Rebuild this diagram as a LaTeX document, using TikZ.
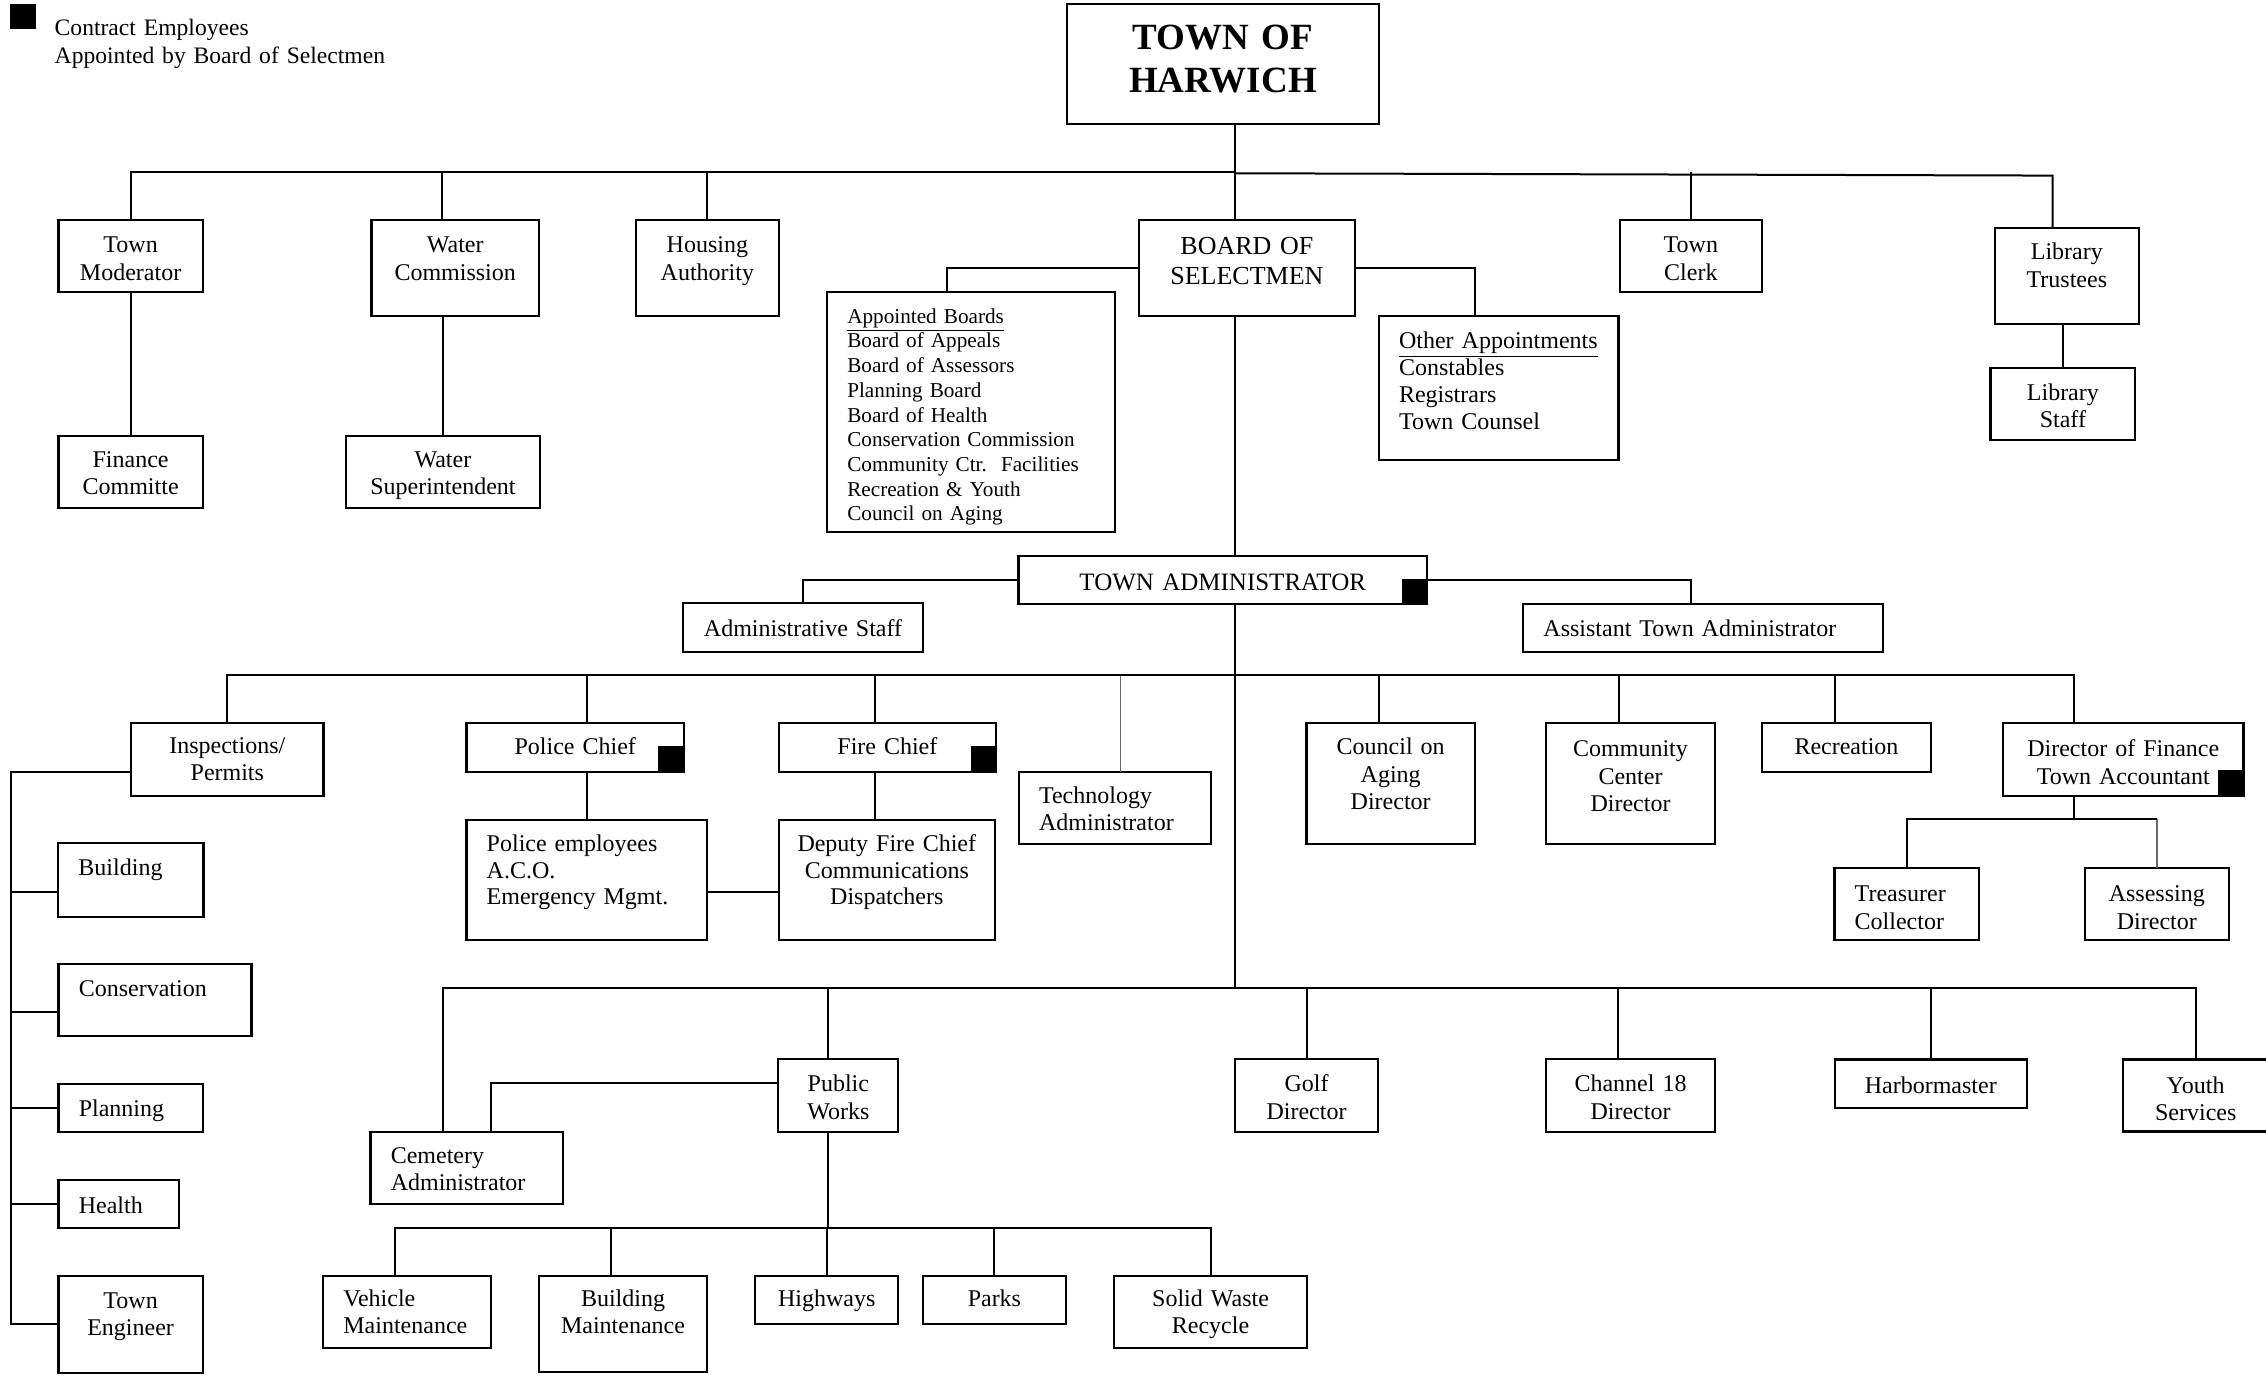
\documentclass[tikz,border=0pt]{standalone}
\usepackage{fontspec}
\setmainfont{Liberation Serif}
\usetikzlibrary{calc}
\newcommand{\upx}{0.7226}
% box from (x1,y1) to (x2,y2), first baseline at y
\newcommand{\orgbox}[8][]{%
  \pgfmathsetmacro\boxw{(#5-#3)*\upx}%
  \pgfmathsetmacro\boxcw{(#5-#3)*\upx-2}%
  \pgfmathsetmacro\boxtw{(#5-#3-28)*\upx}%
  \pgfmathsetmacro\boxh{(#7-#4)*\upx}%
  \pgfmathsetmacro\boxd{(#6-#7)*\upx}%
  \node[unit, minimum width=\boxw pt, text height=\boxh pt, text depth=\boxd pt, #1] (#2) at (#3,#4) {#8};%
}
\tikzset{
  unit/.style     = {draw, line width=1.1pt, anchor=north west, outer sep=0pt,
                     inner xsep=1pt, inner ysep=0pt, align=center, text width=\boxcw pt,
                     font=\fontsize{12}{13.7}\selectfont},
  roster/.style   = {align=left, inner xsep=10.12pt, text width=\boxtw pt},
  link/.style     = {line width=1pt},
  faint/.style    = {line width=0.7pt, black!60},
  contract/.style = {fill=black, inner sep=0pt, minimum size=12.6pt, anchor=south east}
}
\begin{document}
\begin{tikzpicture}[x=0.7226pt, y=-0.7226pt]
\useasboundingbox (0,0) rectangle (1568,953);

% key
\node[contract, anchor=north west] (key) at (6.9,2.3) {};
\node[anchor=base west, inner sep=0pt, align=left, text width=250pt,
      font=\fontsize{11.8}{13.7}\selectfont] (keytext) at (37.6,24.7)
  {Contract Employees\\Appointed by Board of Selectmen};

% the town, level 1
\orgbox[font=\fontsize{18.5}{21.7}\selectfont\bfseries]{harwich}{738.1}{2.8}{954.4}{85.8}{34.1}{TOWN OF\\HARWICH}
\orgbox{mod}{40.5}{152.2}{140.3}{202}{174.8}{Town\\Moderator}
\orgbox{wcomm}{257}{152}{373}{218.5}{174.8}{Water\\Commission}
\orgbox{housing}{440}{152}{539}{218.5}{174.8}{Housing\\Authority}
\orgbox[font=\fontsize{13}{15}\selectfont]{bos}{788}{152}{937.6}{218.7}{176.4}{BOARD OF\\SELECTMEN}
\orgbox{clerk}{1121}{152}{1219}{202}{174.8}{Town\\Clerk}
\orgbox{libtr}{1380.4}{157.5}{1480}{224}{179.9}{Library\\Trustees}
\orgbox{libst}{1377.4}{254.4}{1477.5}{304.2}{276.8}{Library\\Staff}
\orgbox{fincom}{40.5}{301.7}{140.3}{351.6}{323.4}{Finance\\Committe}
\orgbox{wsup}{239.6}{301.7}{373.4}{351.6}{323.4}{Water\\Superintendent}
\orgbox[roster, font=\fontsize{10.6}{12.35}\selectfont]{appb}{572.3}{201.8}{771.5}{368.1}{223.7}
  {\underline{Appointed Boards}\\Board of Appeals\\Board of Assessors\\Planning Board\\Board of Health\\
   Conservation Commission\\Community Ctr.\ \ Facilities\\Recreation \& Youth\\Council on Aging}
\orgbox[roster, font=\fontsize{12}{13.6}\selectfont]{other}{954.1}{218.7}{1119.9}{318.3}{241}
  {\underline{Other Appointments}\\Constables\\Registrars\\Town Counsel}

% administration
\orgbox[font=\fontsize{12.5}{15}\selectfont]{ta}{704.7}{384.7}{987.5}{418.2}{408.7}{TOWN ADMINISTRATOR}
\orgbox{admst}{472.7}{417.5}{638.7}{450.9}{440.5}{Administrative Staff}
\orgbox[roster]{asst}{1054}{418}{1303}{451}{440.5}{Assistant Town Administrator}

% departments, first row
\orgbox{insp}{90.8}{500.5}{223.8}{551}{521.3}{Inspections/\\Permits}
\orgbox{police}{322.8}{500.5}{473.3}{534}{522.4}{Police Chief}
\orgbox{fire}{538.8}{500.5}{689.3}{534}{522.4}{Fire Chief}
\orgbox[roster]{tech}{705}{534}{838}{584}{555.9}{Technology\\Administrator}
\orgbox{council}{904}{500.5}{1020.6}{584}{522.4}{Council on\\Aging\\Director}
\orgbox{commty}{1070}{500.5}{1186.5}{584}{523.6}{Community\\Center\\Director}
\orgbox{rec}{1219.4}{500.5}{1336}{534}{522.4}{Recreation}
\orgbox{dof}{1386.1}{500.5}{1552.4}{550.8}{523.6}{Director of Finance\\Town Accountant}
\orgbox[roster]{treas}{1269.4}{600.4}{1369.2}{650.4}{623.9}{Treasurer\\Collector}
\orgbox{assess}{1442.6}{600.4}{1542.3}{650.4}{623.9}{Assessing\\Director}
\orgbox[roster, font=\fontsize{12}{13.3}\selectfont]{pemp}{322.8}{567.4}{489.3}{650.4}{589.3}{Police employees\\A.C.O.\\Emergency Mgmt.}
\orgbox[font=\fontsize{12}{13.3}\selectfont]{dep}{538.8}{567.4}{688.5}{650.4}{589.3}{Deputy Fire Chief\\Communications\\Dispatchers}

% inspections
\orgbox[roster]{bldg}{40.3}{583.5}{140.8}{634.3}{605.5}{Building}
\orgbox[roster]{cons}{40.5}{667}{174}{716.9}{689.6}{Conservation}
\orgbox[roster]{plan}{40.5}{750}{140.3}{783.3}{772.6}{Planning}
\orgbox[roster]{hlth}{40.5}{816.3}{123.9}{849.5}{839.6}{Health}
\orgbox{eng}{40.5}{883}{140.3}{949.8}{905.3}{Town\\Engineer}

% departments, second row
\orgbox[roster]{cem}{256.4}{783.3}{389.8}{833}{805}{Cemetery\\Administrator}
\orgbox{pw}{538.6}{733}{621.6}{783.3}{755.4}{Public\\Works}
\orgbox{golf}{854.6}{733}{953.6}{783.3}{755.4}{Golf\\Director}
\orgbox{ch18}{1070}{733}{1186.5}{783.3}{755.4}{Channel 18\\Director}
\orgbox{harbor}{1269.5}{733.2}{1402.6}{766.7}{756.5}{Harbormaster}
\orgbox{youth}{1468.8}{733.2}{1570}{783}{756.5}{Youth\\Services}

% public works
\orgbox[roster]{veh}{223.6}{882.7}{339.6}{932.5}{904.1}{Vehicle\\Maintenance}
\orgbox{bmaint}{373.1}{882.7}{489.1}{949.1}{904.1}{Building\\Maintenance}
\orgbox{hwy}{522.6}{882.7}{621.6}{915.9}{904.1}{Highways}
\orgbox{parks}{638.6}{882.7}{737.6}{915.9}{904.1}{Parks}
\orgbox{solid}{771.1}{882.7}{904.2}{932.5}{904.1}{Solid Waste\\Recycle}

% contract employees
\node[contract] (ta-c) at (ta.south east) {};
\node[contract] (police-c) at (police.south east) {};
\node[contract] (fire-c) at (fire.south east) {};
\node[contract] (dof-c) at (dof.south east) {};

% buses on the spine
\coordinate (bus1) at (854.6,119.2);
\coordinate (bus2) at (854.6,467);
\coordinate (bus3) at (854.6,683.4);
\coordinate (rail) at (7.4,0);

\draw[link] (harwich.south -| bus1) -- (bos.north -| bus1);
\draw[link] (bos.south -| bus1) -- (ta.north -| bus1);
\draw[link] (ta.south -| bus1) -- (bus3);

% level 1
\draw[link] (bus1) -| (mod.north);
\draw[link] (bus1) -| ($(wcomm.north)+(-9,0)$);
\draw[link] (bus1) -| (housing.north);
\draw[link] (clerk.north) -- (clerk.north |- bus1);
\coordinate (libturn) at ($(libtr.north)+(-9.9,-36)$);
\draw[link] ($(bus1)+(0,0.7)$) -- (libturn) -- ($(libtr.north)+(-9.9,0)$);
\draw[link] (mod.south) -- (fincom.north);
\draw[link] (wsup.north) -- (wsup.north |- wcomm.south);
\draw[link] (libst.north) -- (libst.north |- libtr.south);
\draw[link] (bos.west) -| ($(appb.north)+(-16.7,0)$);
\draw[link] (bos.east) -| ($(other.north)+(-16.5,0)$);

% town administrator
\draw[link] (ta.west) -| (admst.north);
\draw[link] (ta.east) -| ($(asst.north)+(-8.5,0)$);

% first row
\draw[faint] ($(tech.north)+(4,0)$) coordinate (t) -- (t |- bus2);
\draw[link] (bus2) -| (insp.north);
\draw[link] (bus2) -| ($(police.north)+(7.8,0)$);
\draw[link] (bus2) -| ($(fire.north)+(-8.7,0)$);
\draw[link] (bus2) -| ($(council.north)+(-8.3,0)$);
\draw[link] (bus2) -| ($(commty.north)+(-8.3,0)$);
\draw[link] (bus2) -| ($(rec.north)+(-7.7,0)$);
\draw[link] (bus2) -| ($(dof.north)+(-33.8,0)$);

\coordinate (finbus) at ($(dof.south)+(-33.8,16.1)$);
\draw[faint] (assess.north) -- (assess.north |- finbus);
\draw[link] ($(dof.south)+(-33.8,0)$) -- (finbus);
\draw[link] (finbus) -| (treas.north);
\draw[link] (finbus) -- (finbus -| assess.north);

\draw[link] (pemp.north) -- (pemp.north |- police.south);
\draw[link] ($(dep.north)+(-8.1,0)$) coordinate (f) -- (f |- fire.south);
\draw[link] ($(pemp.east)+(0,8)$) -- ($(dep.west)+(0,8)$);

\draw[link] ($(insp.west)+(0,8.3)$) -| (rail |- eng.west) -- (eng.west);
\foreach \n/\d in {bldg/8.1, cons/8.1, plan/0.3, hlth/0}
  \draw[link] ($(\n.west)+(0,\d)$) coordinate (t) -- (t -| rail);

% second row
\draw[link] (bus3) -| ($(cem.north)+(-16.4,0)$);
\draw[link] (bus3) -| ($(pw.north)+(-7.5,0)$);
\draw[link] (bus3) -| (golf.north);
\draw[link] (bus3) -| ($(ch18.north)+(-9,0)$);
\draw[link] (bus3) -| (harbor.north);
\draw[link] (bus3) -| (youth.north);
\draw[link] ($(pw.west)+(0,-8.6)$) -| ($(cem.north)+(16.7,0)$);

\coordinate (pwbus) at ($(pw.south)+(-7.5,66.2)$);
\draw[link] ($(pw.south)+(-7.5,0)$) -- (pwbus);
\draw[link] (pwbus) -| ($(veh.north)+(-8.3,0)$);
\draw[link] (pwbus) -| ($(bmaint.north)+(-8.5,0)$);
\draw[link] (pwbus) -| (hwy.north);
\draw[link] (pwbus) -| (parks.north);
\draw[link] (pwbus) -| (solid.north);

\end{tikzpicture}
\end{document}
